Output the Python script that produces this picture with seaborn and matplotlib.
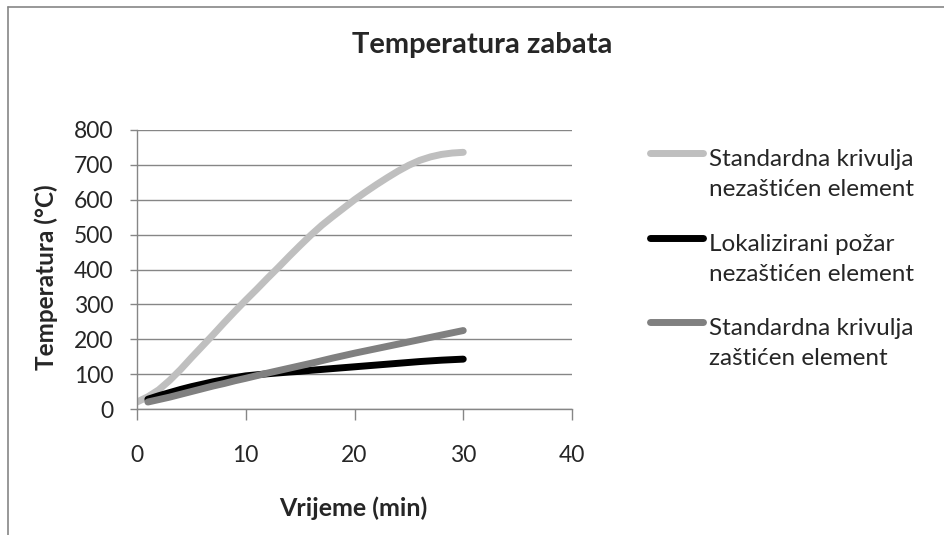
import numpy as np
import pandas as pd
import matplotlib
matplotlib.use("Agg")
import matplotlib.pyplot as plt
from matplotlib.lines import Line2D
import seaborn as sns

# ---------------- data ----------------
title = "Temperatura zabata"
x_label = "Vrijeme (min)"
y_label = "Temperatura (°C)"
series_names = [
    "Standardna krivulja\nnezaštićen element",
    "Lokalizirani požar\nnezaštićen element",
    "Standardna krivulja\nzaštićen element",
]
series_colors = ["#BFBFBF", "#000000", "#808080"]

std_unprot_t = [0, 1, 2, 3, 4, 5, 6, 7, 8, 9, 10, 11, 12, 13, 14, 15, 16, 17, 18,
                19, 20, 21, 22, 23, 24, 25, 26, 27, 28, 29, 30]
std_unprot_T = [20, 35, 55, 82, 113, 147, 180, 213, 247, 280, 312, 343, 375, 406,
                438, 469, 499, 527, 552, 576, 600, 622, 643, 663, 682, 699, 713,
                723, 730, 734, 736]

local_unprot_t = [1, 2, 3, 4, 5, 6, 7, 8, 9, 10, 12, 14, 15, 16, 18, 20, 22, 24, 26, 28, 30]
local_unprot_T = [28, 38, 47, 56, 64, 71, 78, 84, 90, 95, 101, 106, 108, 111, 116,
                  121, 126, 131, 136, 140, 143]

std_prot_t = [1, 2, 3, 4, 5, 6, 7, 8, 9, 10, 12, 14, 15, 16, 18, 20, 22, 24, 26, 28, 30]
std_prot_T = [20, 27, 34, 42, 50, 58, 66, 73, 81, 88, 103, 117, 124, 131, 146, 160,
              173, 186, 199, 212, 225]

x_ticks = [0, 10, 20, 30, 40]
y_ticks = [0, 100, 200, 300, 400, 500, 600, 700, 800]

# ---------------- styling ----------------
sns.set_style("white")
plt.rcParams["font.family"] = ["Lato", "DejaVu Sans"]
plt.rcParams["lines.solid_capstyle"] = "round"

frames = []
for name, t, T in zip(series_names,
                      [std_unprot_t, local_unprot_t, std_prot_t],
                      [std_unprot_T, local_unprot_T, std_prot_T]):
    frames.append(pd.DataFrame({"t": t, "T": T, "series": name}))
df = pd.concat(frames, ignore_index=True)

W, H = 944, 535
fig = plt.figure(figsize=(W / 100, H / 100), dpi=100)
ax = fig.add_axes([137 / W, 1 - 409 / H, (572 - 137) / W, (409 - 130) / H])

sns.lineplot(data=df, x="t", y="T", hue="series", hue_order=series_names,
             palette=series_colors, linewidth=5, estimator=None, sort=True,
             legend=False, ax=ax)

grid_c = "#868686"
ax.set_xlim(0, 40)
ax.set_ylim(0, 800)
ax.set_xticks(x_ticks)
ax.set_yticks(y_ticks)
ax.yaxis.grid(True, color=grid_c, linewidth=1)
ax.xaxis.grid(False)
ax.set_axisbelow(True)
for s in ["top", "right"]:
    ax.spines[s].set_visible(False)
for s in ["left", "bottom"]:
    ax.spines[s].set_color(grid_c)
    ax.spines[s].set_linewidth(1)
ax.tick_params(axis="y", direction="out", length=5, width=1, color=grid_c,
               labelsize=16.5, pad=12, left=True)
ax.tick_params(axis="x", direction="out", length=8, width=1, color=grid_c,
               labelsize=16.5, pad=18, bottom=True)

ax.set_xlabel(x_label, fontsize=18, fontweight="bold", va="center")
ax.xaxis.set_label_coords(0.498, (409 - 508) / (409 - 130))
ax.set_ylabel(y_label, fontsize=17.5, fontweight="bold", va="center")
ax.yaxis.set_label_coords((46 - 137) / (572 - 137), (409 - 277) / (409 - 130))

fig.text(482 / W, 1 - 45 / H, title, fontsize=21, fontweight="bold",
         ha="center", va="center")

# legend (manual, Excel-like)
handle_y = [153, 237.5, 321.5]
base_y = [(166, 196), (251, 281), (335, 365)]
for name, col, hy, (b1, b2) in zip(series_names, series_colors, handle_y, base_y):
    fig.add_artist(Line2D([650 / W, 703 / W], [1 - hy / H, 1 - hy / H],
                          transform=fig.transFigure, color=col, linewidth=5,
                          solid_capstyle="round"))
    l1, l2 = name.split("\n")
    fig.text(709 / W, 1 - b1 / H, l1, fontsize=17.5, ha="left", va="baseline")
    fig.text(709 / W, 1 - b2 / H, l2, fontsize=17.5, ha="left", va="baseline")

# chart border (Excel chart area)
fig.add_artist(Line2D([8 / W, 8 / W], [0, 1 - 6.5 / H], transform=fig.transFigure,
                      color=grid_c, linewidth=1.2))
fig.add_artist(Line2D([8 / W, 1], [1 - 6.5 / H, 1 - 6.5 / H], transform=fig.transFigure,
                      color=grid_c, linewidth=1.2))

fig.savefig("out.png", dpi=100)
